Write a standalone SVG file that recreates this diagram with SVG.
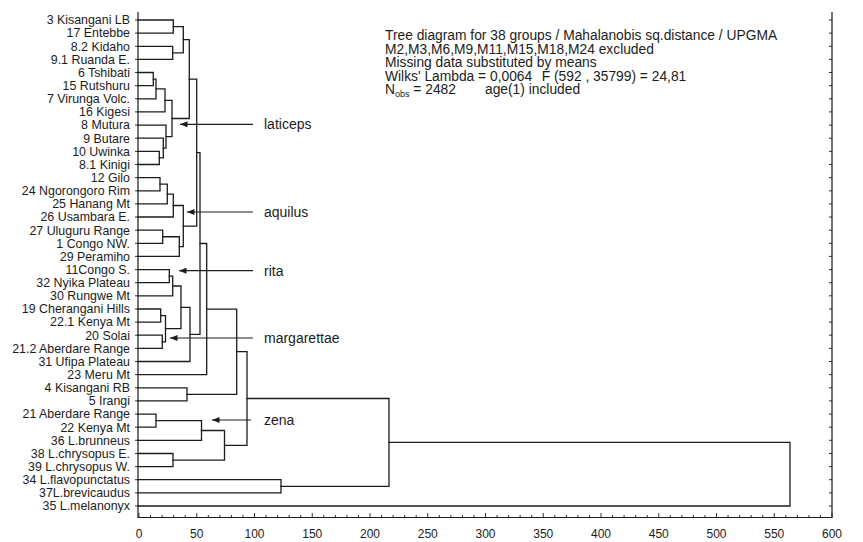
<svg xmlns="http://www.w3.org/2000/svg" width="863" height="542" viewBox="0 0 863 542">
<style>
.bg{fill:#ffffff}
.ln{fill:none;stroke:#1c1c1c;stroke-width:1.3;stroke-linecap:square}
.fr{fill:none;stroke:#1c1c1c;stroke-width:1.2}
.tk{fill:none;stroke:#1c1c1c;stroke-width:0.9}
.lf{font-family:"Liberation Sans",Arial,sans-serif;font-size:12.4px;fill:#1c1c1c;text-anchor:end}
.hd{font-family:"Liberation Sans",Arial,sans-serif;font-size:13.8px;fill:#1c1c1c}
.gl{font-family:"Liberation Sans",Arial,sans-serif;font-size:14px;fill:#1c1c1c}
.ax{font-family:"Liberation Sans",Arial,sans-serif;font-size:12px;fill:#1c1c1c;text-anchor:middle}
.ar{fill:none;stroke:#1c1c1c;stroke-width:1.2;marker-end:url(#ah)}
</style>
<defs>
<marker id="ah" viewBox="0 0 10 8" refX="10" refY="4" markerUnits="userSpaceOnUse" markerWidth="9" markerHeight="6" orient="auto">
<path d="M0,0 L10,4 L0,8 z" fill="#1c1c1c"/>
</marker>
</defs>
<rect class="bg" x="0" y="0" width="863" height="542"/>

<g id="frame">
<path class="fr" d="M138 12 V517.5 H832 V12"/>
<path class="tk" d="M135 20H138M135 33.1H138M135 46.3H138M135 59.4H138M135 72.5H138M135 85.7H138M135 98.8H138M135 111.9H138M135 125.1H138M135 138.2H138M135 151.4H138M135 164.5H138M135 177.6H138M135 190.8H138M135 203.9H138M135 217H138M135 230.2H138M135 243.3H138M135 256.4H138M135 269.6H138M135 282.7H138M135 295.8H138M135 309H138M135 322.1H138M135 335.2H138M135 348.4H138M135 361.5H138M135 374.6H138M135 387.8H138M135 400.9H138M135 414.1H138M135 427.2H138M135 440.3H138M135 453.5H138M135 466.6H138M135 479.7H138M135 492.9H138M135 506H138"/>
<path class="tk" d="M829 20H832M829 33.1H832M829 46.3H832M829 59.4H832M829 72.5H832M829 85.7H832M829 98.8H832M829 111.9H832M829 125.1H832M829 138.2H832M829 151.4H832M829 164.5H832M829 177.6H832M829 190.8H832M829 203.9H832M829 217H832M829 230.2H832M829 243.3H832M829 256.4H832M829 269.6H832M829 282.7H832M829 295.8H832M829 309H832M829 322.1H832M829 335.2H832M829 348.4H832M829 361.5H832M829 374.6H832M829 387.8H832M829 400.9H832M829 414.1H832M829 427.2H832M829 440.3H832M829 453.5H832M829 466.6H832M829 479.7H832M829 492.9H832M829 506H832"/>
<path class="tk" d="M139 517.5v-4.5M150.55 517.5v-2.5M162.1 517.5v-2.5M173.65 517.5v-2.5M185.2 517.5v-2.5M196.75 517.5v-4.5M208.3 517.5v-2.5M219.85 517.5v-2.5M231.4 517.5v-2.5M242.95 517.5v-2.5M254.5 517.5v-4.5M266.05 517.5v-2.5M277.6 517.5v-2.5M289.15 517.5v-2.5M300.7 517.5v-2.5M312.25 517.5v-4.5M323.8 517.5v-2.5M335.35 517.5v-2.5M346.9 517.5v-2.5M358.45 517.5v-2.5M370 517.5v-4.5M381.55 517.5v-2.5M393.1 517.5v-2.5M404.65 517.5v-2.5M416.2 517.5v-2.5M427.75 517.5v-4.5M439.3 517.5v-2.5M450.85 517.5v-2.5M462.4 517.5v-2.5M473.95 517.5v-2.5M485.5 517.5v-4.5M497.05 517.5v-2.5M508.6 517.5v-2.5M520.15 517.5v-2.5M531.7 517.5v-2.5M543.25 517.5v-4.5M554.8 517.5v-2.5M566.35 517.5v-2.5M577.9 517.5v-2.5M589.45 517.5v-2.5M601 517.5v-4.5M612.55 517.5v-2.5M624.1 517.5v-2.5M635.65 517.5v-2.5M647.2 517.5v-2.5M658.75 517.5v-4.5M670.3 517.5v-2.5M681.85 517.5v-2.5M693.4 517.5v-2.5M704.95 517.5v-2.5M716.5 517.5v-4.5M728.05 517.5v-2.5M739.6 517.5v-2.5M751.15 517.5v-2.5M762.7 517.5v-2.5M774.25 517.5v-4.5M785.8 517.5v-2.5M797.35 517.5v-2.5M808.9 517.5v-2.5M820.45 517.5v-2.5M832 517.5v-4.5"/>
</g>

<g id="axis-labels">
<text class="ax" x="139" y="537.5">0</text>
<text class="ax" x="196.75" y="537.5">50</text>
<text class="ax" x="254.5" y="537.5">100</text>
<text class="ax" x="312.25" y="537.5">150</text>
<text class="ax" x="370" y="537.5">200</text>
<text class="ax" x="427.75" y="537.5">250</text>
<text class="ax" x="485.5" y="537.5">300</text>
<text class="ax" x="543.25" y="537.5">350</text>
<text class="ax" x="601" y="537.5">400</text>
<text class="ax" x="658.75" y="537.5">450</text>
<text class="ax" x="716.5" y="537.5">500</text>
<text class="ax" x="774.25" y="537.5">550</text>
<text class="ax" x="832" y="537.5">600</text>
</g>

<g id="header">
<text class="hd" x="385" y="40">Tree diagram for 38 groups / Mahalanobis sq.distance / UPGMA</text>
<text class="hd" x="385" y="53.5">M2,M3,M6,M9,M11,M15,M18,M24 excluded</text>
<text class="hd" x="385" y="67">Missing data substituted by means</text>
<text class="hd" x="385" y="80.5">Wilks' Lambda = 0,0064</text>
<text class="hd" x="541.7" y="80.5">F (592 , 35799) = 24,81</text>
<text class="hd" x="385" y="94">N<tspan font-size="9" dy="3">obs</tspan><tspan dy="-3"> = 2482</tspan></text>
<text class="hd" x="485" y="94">age(1) included</text>
</g>

<g id="leaf-0"><text class="lf" x="130" y="24.3">3 Kisangani LB</text></g>
<g id="leaf-1"><text class="lf" x="130" y="37.4">17 Entebbe</text></g>
<g id="leaf-2"><text class="lf" x="130" y="50.6">8.2 Kidaho</text></g>
<g id="leaf-3"><text class="lf" x="130" y="63.7">9.1 Ruanda E.</text></g>
<g id="leaf-4"><text class="lf" x="130" y="76.8">6 Tshibati</text></g>
<g id="leaf-5"><text class="lf" x="130" y="90">15 Rutshuru</text></g>
<g id="leaf-6"><text class="lf" x="130" y="103.1">7 Virunga Volc.</text></g>
<g id="leaf-7"><text class="lf" x="130" y="116.2">16 Kigesi</text></g>
<g id="leaf-8"><text class="lf" x="130" y="129.4">8 Mutura</text></g>
<g id="leaf-9"><text class="lf" x="130" y="142.5">9 Butare</text></g>
<g id="leaf-10"><text class="lf" x="130" y="155.7">10 Uwinka</text></g>
<g id="leaf-11"><text class="lf" x="130" y="168.8">8.1 Kinigi</text></g>
<g id="leaf-12"><text class="lf" x="130" y="181.9">12 Gilo</text></g>
<g id="leaf-13"><text class="lf" x="130" y="195.1">24 Ngorongoro Rim</text></g>
<g id="leaf-14"><text class="lf" x="130" y="208.2">25 Hanang Mt</text></g>
<g id="leaf-15"><text class="lf" x="130" y="221.3">26 Usambara E.</text></g>
<g id="leaf-16"><text class="lf" x="130" y="234.5">27 Uluguru Range</text></g>
<g id="leaf-17"><text class="lf" x="130" y="247.6">1 Congo NW.</text></g>
<g id="leaf-18"><text class="lf" x="130" y="260.7">29 Peramiho</text></g>
<g id="leaf-19"><text class="lf" x="130" y="273.9">11Congo S.</text></g>
<g id="leaf-20"><text class="lf" x="130" y="287">32 Nyika Plateau</text></g>
<g id="leaf-21"><text class="lf" x="130" y="300.1">30 Rungwe Mt</text></g>
<g id="leaf-22"><text class="lf" x="130" y="313.3">19 Cherangani Hills</text></g>
<g id="leaf-23"><text class="lf" x="130" y="326.4">22.1 Kenya Mt</text></g>
<g id="leaf-24"><text class="lf" x="130" y="339.5">20 Solai</text></g>
<g id="leaf-25"><text class="lf" x="130" y="352.7">21.2 Aberdare Range</text></g>
<g id="leaf-26"><text class="lf" x="130" y="365.8">31 Ufipa Plateau</text></g>
<g id="leaf-27"><text class="lf" x="130" y="378.9">23 Meru Mt</text></g>
<g id="leaf-28"><text class="lf" x="130" y="392.1">4 Kisangani RB</text></g>
<g id="leaf-29"><text class="lf" x="130" y="405.2">5 Irangi</text></g>
<g id="leaf-30"><text class="lf" x="130" y="418.4">21 Aberdare Range</text></g>
<g id="leaf-31"><text class="lf" x="130" y="431.5">22 Kenya Mt</text></g>
<g id="leaf-32"><text class="lf" x="130" y="444.6">36 L.brunneus</text></g>
<g id="leaf-33"><text class="lf" x="130" y="457.8">38 L.chrysopus E.</text></g>
<g id="leaf-34"><text class="lf" x="130" y="470.9">39 L.chrysopus W.</text></g>
<g id="leaf-35"><text class="lf" x="130" y="484">34 L.flavopunctatus</text></g>
<g id="leaf-36"><text class="lf" x="130" y="497.2">37L.brevicaudus</text></g>
<g id="leaf-37"><text class="lf" x="130" y="510.3">35 L.melanonyx</text></g>

<g id="connectors">
<path class="ln" d="M138 20 H173.3 V33.1 H138"/>
<path class="ln" d="M138 46.3 H172.7 V59.4 H138"/>
<path class="ln" d="M173.3 26.55 H183.3 V52.85 H172.7"/>
<path class="ln" d="M138 72.5 H153.3 V85.7 H138"/>
<path class="ln" d="M153.3 79.1 H156 V98.8 H138"/>
<path class="ln" d="M156 88.95 H165 V111.9 H138"/>
<path class="ln" d="M138 151.4 H159.3 V164.5 H138"/>
<path class="ln" d="M138 138.2 H163.3 V157.95 H159.3"/>
<path class="ln" d="M138 125.1 H166 V148.1 H163.3"/>
<path class="ln" d="M165 100.4 H172 V136.6 H166"/>
<path class="ln" d="M183.3 39.7 H189.3 V118.5 H172"/>
<path class="ln" d="M138 177.6 H160 V190.8 H138"/>
<path class="ln" d="M160 184.2 H167.3 V203.9 H138"/>
<path class="ln" d="M167.3 194.05 H173.3 V217 H138"/>
<path class="ln" d="M138 230.2 H162.7 V243.3 H138"/>
<path class="ln" d="M162.7 236.75 H179.3 V256.4 H138"/>
<path class="ln" d="M173.3 205.5 H183.3 V246.6 H179.3"/>
<path class="ln" d="M189.3 79.1 H196.7 V226.05 H183.3"/>
<path class="ln" d="M138 269.6 H169.3 V282.7 H138"/>
<path class="ln" d="M169.3 276.15 H172.7 V295.8 H138"/>
<path class="ln" d="M138 309 H160.7 V322.1 H138"/>
<path class="ln" d="M138 335.2 H162.3 V348.4 H138"/>
<path class="ln" d="M160.7 315.55 H165.5 V341.8 H162.3"/>
<path class="ln" d="M172.7 286 H181 V328.7 H165.5"/>
<path class="ln" d="M181 307.35 H190 V361.5 H138"/>
<path class="ln" d="M196.7 152.6 H200 V334.4 H190"/>
<path class="ln" d="M200 243.5 H206.7 V374.6 H138"/>
<path class="ln" d="M138 387.8 H187 V400.9 H138"/>
<path class="ln" d="M206.7 309.05 H236.7 V394.35 H187"/>
<path class="ln" d="M138 414.1 H156 V427.2 H138"/>
<path class="ln" d="M156 420.65 H201.5 V440.3 H138"/>
<path class="ln" d="M138 453.5 H173 V466.6 H138"/>
<path class="ln" d="M201.5 430.5 H224.5 V460.05 H173"/>
<path class="ln" d="M236.7 351.7 H247 V445.3 H224.5"/>
<path class="ln" d="M138 479.7 H281 V492.9 H138"/>
<path class="ln" d="M247 398.5 H389 V486.3 H281"/>
<path class="ln" d="M389 442.4 H790 V506 H138"/>
<path class="ar" d="M253 124.3 H180"/>
<path class="ar" d="M253 212 H187"/>
<path class="ar" d="M253 270.7 H179"/>
<path class="ar" d="M253 338 H170"/>
<path class="ar" d="M251 420 H212"/>
</g>

<g id="label-laticeps"><text class="gl" x="264" y="129">laticeps</text></g>
<g id="label-aquilus"><text class="gl" x="264" y="216.5">aquilus</text></g>
<g id="label-rita"><text class="gl" x="264" y="275.5">rita</text></g>
<g id="label-margarettae"><text class="gl" x="264" y="342.5">margarettae</text></g>
<g id="label-zena"><text class="gl" x="264" y="424.5">zena</text></g>
</svg>
